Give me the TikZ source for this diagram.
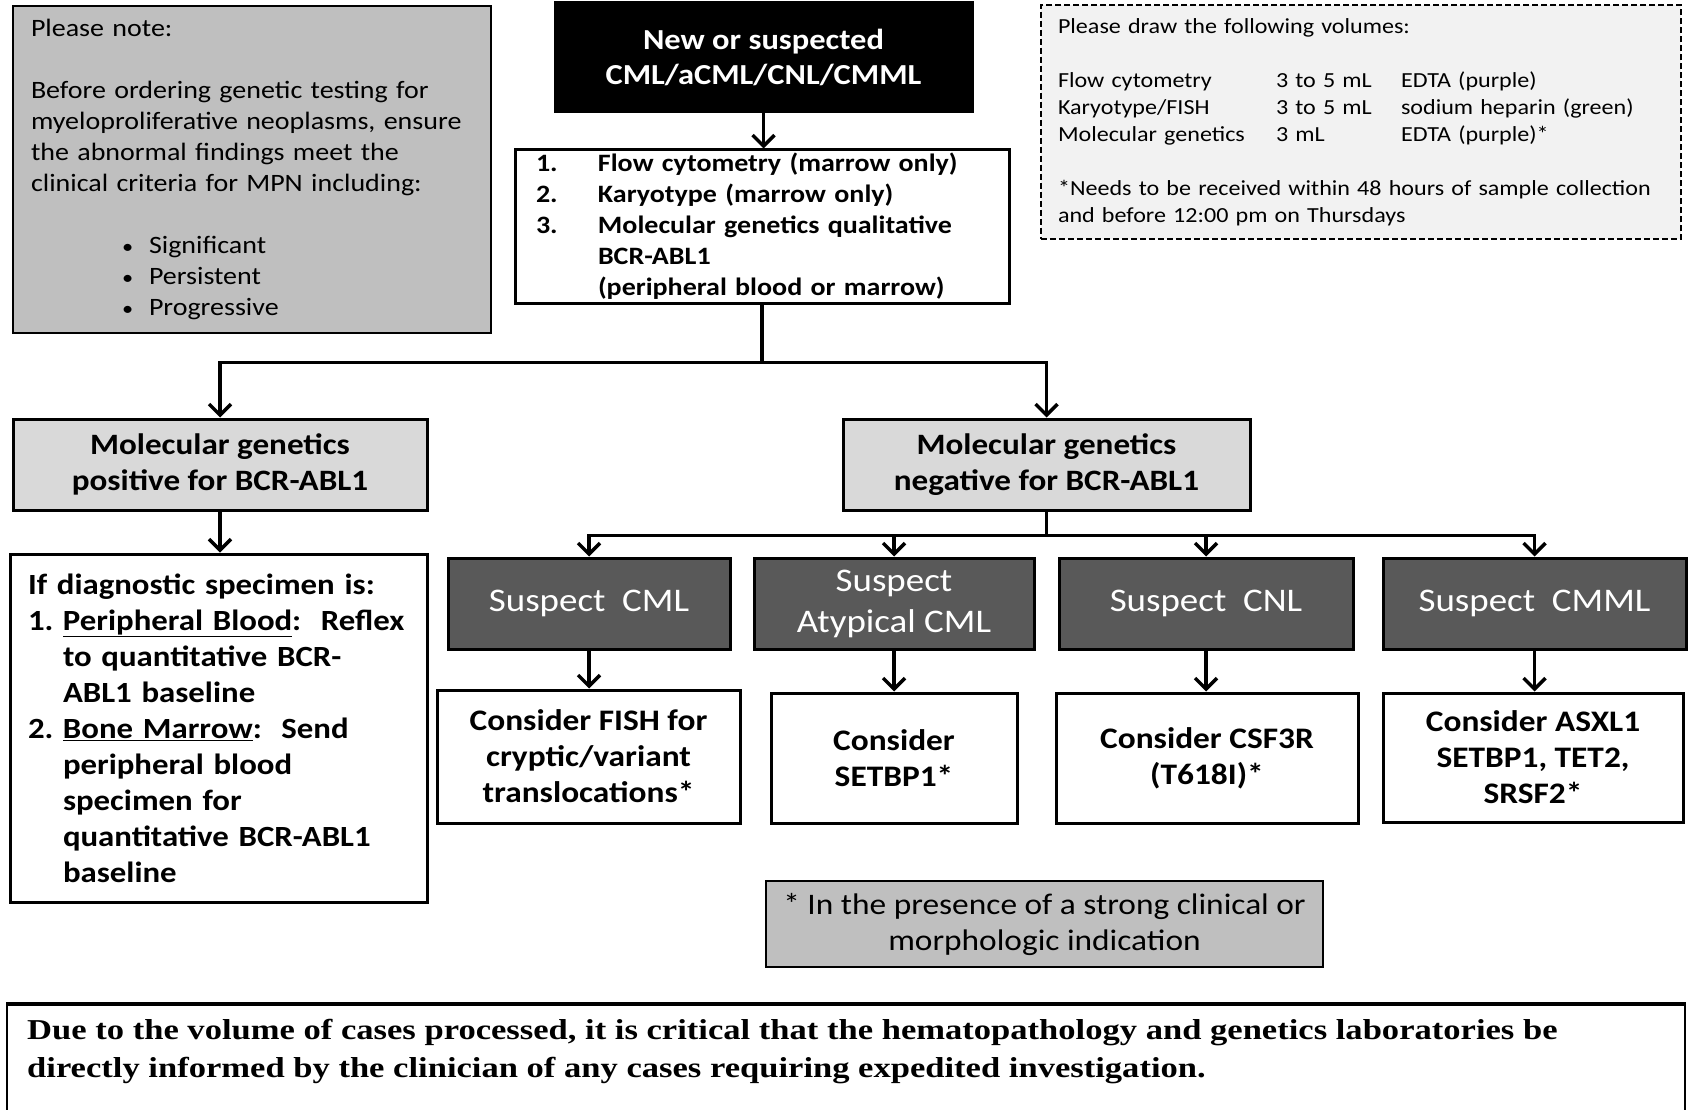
\documentclass[tikz,border=0pt]{standalone}
\usepackage{fontspec}
\setmainfont{Carlito}[FakeStretch=1.12]
\newfontfamily\botfont{Liberation Serif}[FakeStretch=1.2]
\usetikzlibrary{arrows.meta}
\definecolor{notegray}{HTML}{BFBFBF}
\definecolor{lightbox}{HTML}{D9D9D9}
\definecolor{darkbox}{HTML}{595959}
\definecolor{volbg}{HTML}{F2F2F2}
\tikzset{
  frame/.style={draw=black, line width=3pt, inner sep=0pt},
  notebox/.style={draw=black, line width=2pt, fill=notegray, inner sep=0pt},
  lightnode/.style={frame, fill=lightbox, align=center, font=\fontsize{29.6}{36}\selectfont\bfseries},
  darknode/.style={frame, fill=darkbox, text=white, align=center, font=\fontsize{33}{41}\selectfont},
  whitenode/.style={frame, fill=white, align=center, font=\fontsize{29.8}{36}\selectfont\bfseries},
  arr/.style={line width=3.5pt, -{Straight Barb[length=11pt,width=22pt]}},
}
\begin{document}
\begin{tikzpicture}[x=1pt,y=-1pt]
\useasboundingbox (0,0) rectangle (1691,1110);

% Please note box
\node[notebox, minimum width=478pt, minimum height=327pt, text width=442pt, inner xsep=18pt, align=left,
      font=\fontsize{25}{31}\selectfont] (note) at (252,169.5)
{Please note:\\[31pt]
\mbox{Before ordering genetic testing for}\\
\mbox{myeloproliferative neoplasms, ensure}\\
\mbox{the abnormal findings meet the}\\
\mbox{clinical criteria for MPN including:}\\[31pt]
\makebox[118pt][l]{\hspace*{91pt}{\fontsize{20}{31}\selectfont\textbullet}}Significant\\
\makebox[118pt][l]{\hspace*{91pt}{\fontsize{20}{31}\selectfont\textbullet}}Persistent\\
\makebox[118pt][l]{\hspace*{91pt}{\fontsize{20}{31}\selectfont\textbullet}}Progressive};

% top black box
\node[frame, fill=black, text=white, minimum width=417pt, minimum height=109pt, align=center,
      font=\fontsize{29}{35}\selectfont\bfseries] (top) at (763.5,57.5)
{New or suspected\\CML/aCML/CNL/CMML};

% list box
\node[frame, fill=white, minimum width=494pt, minimum height=153pt, text width=452pt, inner xsep=21pt, align=left,
      font=\fontsize{25}{31}\selectfont\bfseries] (list) at (762,226.5)
{\mbox{\makebox[62pt][l]{1.}Flow cytometry (marrow only)}\\
\mbox{\makebox[62pt][l]{2.}Karyotype (marrow only)}\\
\mbox{\makebox[62pt][l]{3.}Molecular genetics qualitative}\\
\mbox{\hspace*{62pt}BCR-ABL1}\\
\mbox{\hspace*{62pt}(peripheral blood or marrow)}};

% volumes box
\node[draw=black, dash pattern=on 6pt off 3pt, line width=1.5pt, fill=volbg, inner sep=0pt, minimum width=640pt, minimum height=234pt,
      text width=606pt, inner xsep=17pt, align=left, font=\fontsize{21.5}{27}\selectfont] (vol) at (1361,122)
{Please draw the following volumes:\\[27pt]
\mbox{\makebox[218pt][l]{Flow cytometry}\makebox[125pt][l]{3 to 5 mL}EDTA (purple)}\\
\mbox{\makebox[218pt][l]{Karyotype/FISH}\makebox[125pt][l]{3 to 5 mL}sodium heparin (green)}\\
\mbox{\makebox[218pt][l]{Molecular genetics}\makebox[125pt][l]{3 mL}EDTA (purple)*}\\[27pt]
\mbox{*Needs to be received within 48 hours of sample collection}\\
\mbox{and before 12:00 pm on Thursdays}};

% result boxes
\node[lightnode, minimum width=414pt, minimum height=91pt] (pos) at (220,464.5)
{Molecular genetics\\positive for BCR-ABL1};
\node[lightnode, minimum width=407pt, minimum height=91pt] (neg) at (1046.5,464.5)
{Molecular genetics\\negative for BCR-ABL1};

% if box
\node[frame, fill=white, minimum width=417pt, minimum height=348pt, text width=381pt, inner xsep=18pt, align=left,
      font=\fontsize{29.3}{36}\selectfont\bfseries] (ifbox) at (218.5,728)
{\mbox{If diagnostic specimen is:}\\
\mbox{\makebox[35pt][l]{1.}\underline{Peripheral Blood}:\ \ Reflex}\\
\mbox{\hspace*{35pt}to quantitative BCR-}\\
\mbox{\hspace*{35pt}ABL1 baseline}\\
\mbox{\makebox[35pt][l]{2.}\underline{Bone Marrow}:\ \ Send}\\
\mbox{\hspace*{35pt}peripheral blood}\\
\mbox{\hspace*{35pt}specimen for}\\
\mbox{\hspace*{35pt}quantitative BCR-ABL1}\\
\mbox{\hspace*{35pt}baseline}};

% suspect boxes
\node[darknode, minimum width=282pt, minimum height=91pt] (s1) at (589,603.5) {Suspect\ \ CML};
\node[darknode, minimum width=280pt, minimum height=91pt] (s2) at (894,603.5) {Suspect\\Atypical CML};
\node[darknode, minimum width=294pt, minimum height=91pt] (s3) at (1206,603.5) {Suspect\ \ CNL};
\node[darknode, minimum width=303pt, minimum height=91pt] (s4) at (1534.5,603.5) {Suspect\ \ CMML};

% consider boxes
\node[whitenode, minimum width=303pt, minimum height=133pt] (c1) at (588.5,756.5)
{Consider FISH for\\cryptic/variant\\translocations*};
\node[whitenode, minimum width=246pt, minimum height=130pt] (c2) at (894,758)
{Consider\\SETBP1*};
\node[whitenode, minimum width=302pt, minimum height=130pt] (c3) at (1207,758)
{Consider CSF3R\\(T618I)*};
\node[whitenode, minimum width=300pt, minimum height=129pt] (c4) at (1533,757.5)
{Consider ASXL1\\SETBP1, TET2,\\SRSF2*};

% footnote box
\node[notebox, minimum width=557pt, minimum height=86pt, align=center,
      font=\fontsize{29.8}{36}\selectfont] (foot) at (1044.5,924)
{* In the presence of a strong clinical or\\morphologic indication};

% bottom box
\node[draw=black, line width=1.5pt, fill=white, inner sep=0pt, minimum width=1678pt, minimum height=120pt,
      anchor=north west] (bot) at (6,1004) {};
\draw[line width=3.5pt] (bot.north west) -- (bot.north east);
\node[inner sep=0pt, anchor=west, align=left, font=\botfont\fontsize{28.8}{38}\selectfont\bfseries] (bottxt) at (27,1052)
{Due to the volume of cases processed, it is critical that the hematopathology and genetics laboratories be\\
directly informed by the clinician of any cases requiring expedited investigation.};

% connectors
\draw[arr] (top.south) -- (top.south |- list.north);
\draw[arr] (list.south) -- ++(0,58) -| (pos.north);
\draw[arr] (list.south) -- ++(0,58) -| (neg.north);
\draw[arr] (pos.south) -- (pos.south |- ifbox.north);
\draw[arr] (neg.south) -- ++(0,24) -| (s1.north);
\draw[arr] (neg.south) -- ++(0,24) -| (s2.north);
\draw[arr] (neg.south) -- ++(0,24) -| (s3.north);
\draw[arr] (neg.south) -- ++(0,24) -| (s4.north);
\draw[arr] (s1.south) -- (s1.south |- c1.north);
\draw[arr] (s2.south) -- (s2.south |- c2.north);
\draw[arr] (s3.south) -- (s3.south |- c3.north);
\draw[arr] (s4.south) -- (s4.south |- c4.north);
\end{tikzpicture}
\end{document}
